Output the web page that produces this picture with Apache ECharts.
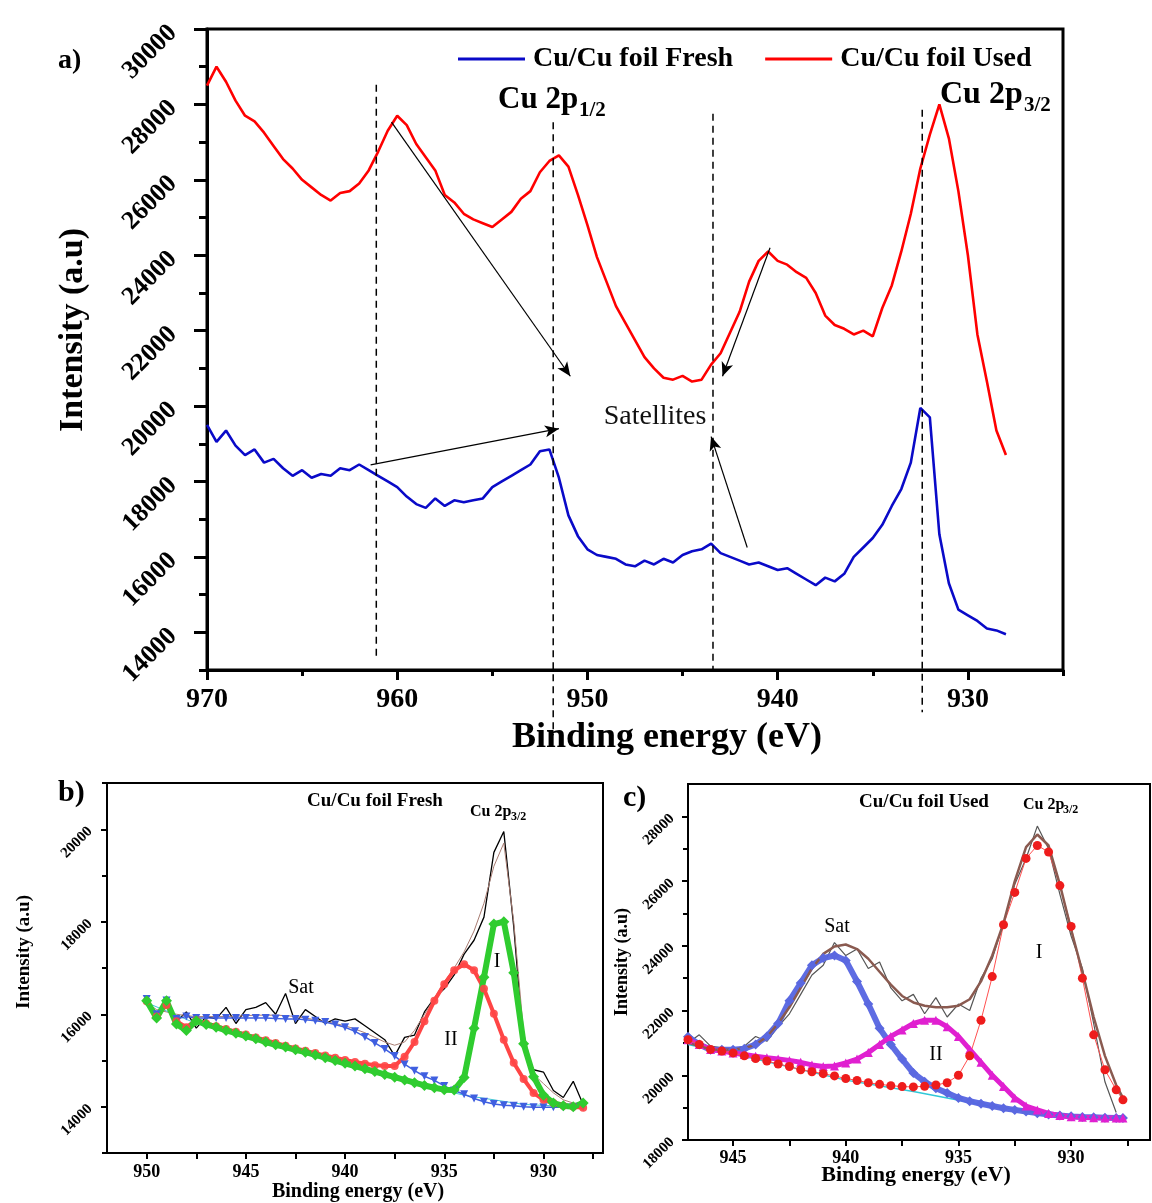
<!DOCTYPE html>
<html>
<head>
<meta charset="utf-8">
<script src="https://cdn.jsdelivr.net/npm/echarts@6/dist/echarts.min.js"></script>
<style>
  html, body { margin: 0; padding: 0; background: #fff; }
  #chart { width: 1152px; height: 1203px; }
</style>
</head>
<body>
<div id="chart"></div>
<script>
const SERIF = '"Liberation Serif", "Times New Roman", serif';

// ---- panel a: survey of Cu 2p ----
const energyA = [970, 969.5, 969, 968.5, 968, 967.5, 967, 966.5, 966, 965.5,
  965, 964.5, 964, 963.5, 963, 962.5, 962, 961.5, 961, 960.5,
  960, 959.5, 959, 958.5, 958, 957.5, 957, 956.5, 956, 955.5,
  955, 954.5, 954, 953.5, 953, 952.5, 952, 951.5, 951, 950.5,
  950, 949.5, 949, 948.5, 948, 947.5, 947, 946.5, 946, 945.5,
  945, 944.5, 944, 943.5, 943, 942.5, 942, 941.5, 941, 940.5,
  940, 939.5, 939, 938.5, 938, 937.5, 937, 936.5, 936, 935.5,
  935, 934.5, 934, 933.5, 933, 932.5, 932, 931.5, 931, 930.5,
  930, 929.5, 929, 928.5, 928];
const usedA = [28500, 29000, 28600, 28100, 27700, 27550, 27250, 26900, 26550, 26300,
  26000, 25800, 25600, 25450, 25650, 25700, 25900, 26250, 26750, 27300,
  27700, 27450, 26950, 26600, 26250, 25600, 25400, 25100, 24950, 24850,
  24750, 24950, 25150, 25500, 25700, 26200, 26500, 26650, 26350, 25600,
  24800, 23950, 23300, 22650, 22200, 21750, 21300, 21000, 20750, 20700,
  20800, 20650, 20700, 21100, 21400, 21950, 22500, 23300, 23850, 24100,
  23850, 23750, 23550, 23400, 23000, 22400, 22150, 22050, 21900, 22000,
  21850, 22600, 23200, 24100, 25100, 26300, 27200, 28000, 27100, 25700,
  24000, 21900, 20650, 19350, 18700];
const freshA = [19500, 19050, 19350, 18950, 18700, 18850, 18500, 18600, 18350, 18150,
  18300, 18100, 18200, 18150, 18350, 18300, 18450, 18300, 18150, 18000,
  17850, 17600, 17400, 17300, 17550, 17350, 17500, 17450, 17500, 17550,
  17850, 18000, 18150, 18300, 18450, 18800, 18850, 18100, 17100, 16550,
  16200, 16050, 16000, 15950, 15800, 15750, 15900, 15800, 15950, 15850,
  16050, 16150, 16200, 16350, 16100, 16000, 15900, 15800, 15850, 15750,
  15650, 15700, 15550, 15400, 15250, 15450, 15350, 15550, 16000, 16250,
  16500, 16850, 17350, 17800, 18500, 19950, 19700, 16600, 15300, 14600,
  14450, 14300, 14100, 14050, 13950];
const xLabelsA = [930, 940, 950, 960, 970];
const xMinorA = [925, 935, 945, 955, 965];
const yLabelsA = [14000, 16000, 18000, 20000, 22000, 24000, 26000, 28000, 30000];
const yMinorA = [13000, 15000, 17000, 19000, 21000, 23000, 25000, 27000, 29000];
// dashed guide lines: energy, top, bottom
const guideE = [961.1, 951.8, 943.4, 932.4];
const guideTop = [28520, 27530, 27750, 27860];
const guideBottom = [13270, 11270, 13000, 11880];
// arrows: [fromE, fromI, toE, toI]
const arrowsA = [
  [960.3, 27530, 950.9, 20790],
  [961.4, 18440, 951.5, 19400],
  [940.4, 24200, 942.9, 20790],
  [941.6, 16250, 943.5, 19190]
];

// ---- panel b: fresh fit ----
const energyB = [950, 949.5, 949, 948.5, 948, 947.5, 947, 946.5, 946, 945.5,
  945, 944.5, 944, 943.5, 943, 942.5, 942, 941.5, 941, 940.5,
  940, 939.5, 939, 938.5, 938, 937.5, 937, 936.5, 936, 935.5,
  935, 934.5, 934, 933.5, 933, 932.5, 932, 931.5, 931, 930.5,
  930, 929.5, 929, 928.5, 928];
const rawB = [16300, 16000, 16250, 15850, 16050, 15700, 15950, 15900, 16150, 15800,
  16100, 16150, 16250, 16000, 16450, 15800, 16100, 15950, 15800, 15900,
  15850, 15900, 15750, 15600, 15450, 15100, 15500, 15550, 16050, 16350,
  16550, 16850, 17300, 17600, 18100, 19500, 19950, 17900, 15300, 14800,
  14750, 14350, 14200, 14550, 14050];
const fitB = [16250, 16100, 16050, 16000, 15970, 15950, 15950, 15950, 15950, 15960,
  15970, 15980, 15980, 15980, 15970, 15950, 15920, 15880, 15840, 15800,
  15750, 15680, 15600, 15500, 15400, 15330, 15400, 15650, 16000, 16350,
  16700, 17000, 17350, 17800, 18400, 19200, 19700, 18000, 15600, 14700,
  14500, 14300, 14150, 14080, 14050];
const peakIB = [16290, 15920, 16290, 15790, 15650, 15860, 15780, 15720, 15650, 15590,
  15530, 15470, 15400, 15340, 15290, 15230, 15180, 15120, 15060, 15000,
  14940, 14880, 14820, 14760, 14700, 14640, 14580, 14520, 14460, 14410,
  14370, 14360, 14630, 15700, 16800, 17950, 18000, 16900, 15360, 14650,
  14250, 14080, 14020, 14000, 14080];
const peakIIB = [16280, 15950, 16200, 15850, 15720, 15870, 15800, 15740, 15680, 15620,
  15560, 15500, 15440, 15380, 15320, 15260, 15210, 15160, 15110, 15060,
  15010, 14970, 14930, 14900, 14880, 14880, 15080, 15400, 15850, 16290,
  16650, 16950, 17080, 16950, 16550, 16010, 15450, 14950, 14600, 14300,
  14150, 14080, 14020, 14000, 13980];
const satB = [16330, 16000, 16300, 15900, 15950, 15920, 15920, 15920, 15920, 15920,
  15920, 15920, 15920, 15910, 15900, 15900, 15880, 15860, 15830, 15780,
  15720, 15630, 15510, 15380, 15250, 15100, 14920, 14780, 14660, 14570,
  14450, 14350, 14270, 14180, 14110, 14060, 14030, 14020, 14000, 13990,
  13990, 13990, 13990, 13990, 13990];
const bgEnergyB = [950, 947.5, 942, 937, 934, 931, 928];
const bgB = [16250, 15800, 15150, 14550, 14250, 14050, 13990];
const xLabelsB = [930, 935, 940, 945, 950];
const xMinorB = [927.5, 932.5, 937.5, 942.5, 947.5];
const yLabelsB = [14000, 16000, 18000, 20000];
const yMinorB = [13000, 15000, 17000, 19000, 21000];

// ---- panel c: used fit ----
const energyC = [947, 946.5, 946, 945.5, 945, 944.5, 944, 943.5, 943, 942.5,
  942, 941.5, 941, 940.5, 940, 939.5, 939, 938.5, 938, 937.5,
  937, 936.5, 936, 935.5, 935, 934.5, 934, 933.5, 933, 932.5,
  932, 931.5, 931, 930.5, 930, 929.5, 929, 928.5, 928, 927.7];
const rawC = [21000, 21250, 20900, 20850, 20800, 20900, 21200, 21050, 21500, 21900,
  22500, 23100, 23400, 24100, 23700, 23900, 23300, 23500, 22700, 22300,
  22500, 21900, 22400, 21800, 22200, 22000, 23000, 23600, 24700, 25900,
  26700, 27700, 27000, 25600, 24300, 23300, 21600, 19800, 18850, null];
const fitC = [21000, 20900, 20800, 20790, 20800, 20830, 20950, 21190, 21600, 22100,
  22700, 23300, 23750, 23980, 24040, 23900, 23600, 23200, 22800, 22450,
  22250, 22150, 22100, 22100, 22150, 22350, 22900, 23700, 24700, 26000,
  27050, 27440, 27100, 25900, 24500, 23200, 21800, 20600, 19700, 19300];
const peakIC = [21100, 20950, 20800, 20750, 20690, 20600, 20520, 20440, 20350, 20270,
  20170, 20110, 20050, 19980, 19900, 19840, 19770, 19720, 19680, 19650,
  19640, 19660, 19700, 19770, 20000, 20600, 21700, 23050, 24650, 25650,
  26700, 27100, 26900, 25860, 24600, 23000, 21250, 20170, 19550, 19240];
const peakIIC = [21100, 20950, 20800, 20750, 20690, 20640, 20590, 20540, 20500, 20460,
  20400, 20320, 20270, 20290, 20380, 20500, 20700, 20950, 21200, 21400,
  21600, 21700, 21700, 21500, 21200, 20800, 20400, 20000, 19650, 19300,
  19050, 18930, 18820, 18760, 18720, 18700, 18690, 18680, 18680, 18680];
const satC = [21190, 20950, 20790, 20790, 20790, 20820, 20950, 21200, 21600, 22300,
  22850, 23400, 23620, 23700, 23550, 22900, 22200, 21450, 20950, 20500,
  20070, 19800, 19600, 19450, 19300, 19200, 19120, 19050, 18980, 18930,
  18880, 18830, 18790, 18760, 18730, 18710, 18700, 18690, 18680, 18680];
const bgEnergyC = [947, 944, 940, 937, 934, 931, 927.7];
const bgC = [20950, 20500, 19850, 19500, 19100, 18800, 18680];
const xLabelsC = [930, 935, 940, 945];
const xMinorC = [927.5, 932.5, 937.5, 942.5];
const yLabelsC = [18000, 20000, 22000, 24000, 26000, 28000];
const yMinorC = [19000, 21000, 23000, 25000, 27000];

function pairs(xs, ys) {
  return xs.map((x, i) => [x, ys[i]]);
}

function xAxes(gridIndex, min, max, major, minor, o) {
  const base = { type: 'value', gridIndex, min, max, inverse: true, position: 'bottom', splitLine: { show: false } };
  return [
    Object.assign({}, base, {
      axisLine: { onZero: false, lineStyle: { color: '#000', width: o.line } },
      axisTick: { customValues: major, length: o.tick, lineStyle: { color: '#000', width: o.line } },
      axisLabel: { customValues: major, margin: o.margin, color: '#000', fontFamily: SERIF, fontWeight: 'bold', fontSize: o.font,
        formatter: v => String(v) }
    }),
    Object.assign({}, base, {
      axisLine: { show: false },
      axisTick: { customValues: minor, length: o.minor, lineStyle: { color: '#000', width: o.line } },
      axisLabel: { show: false }
    })
  ];
}

function yAxes(gridIndex, min, max, major, minor, o) {
  const base = { type: 'value', gridIndex, min, max, position: 'left', splitLine: { show: false } };
  return [
    Object.assign({}, base, {
      axisLine: { onZero: false, lineStyle: { color: '#000', width: o.line } },
      axisTick: { customValues: major, length: o.tick, lineStyle: { color: '#000', width: o.line } },
      axisLabel: { customValues: major, margin: o.margin, rotate: 45, color: '#000', fontFamily: SERIF, fontWeight: 'bold', fontSize: o.font,
        formatter: v => String(v) }
    }),
    Object.assign({}, base, {
      axisLine: { show: false },
      axisTick: { customValues: minor, length: o.minor, lineStyle: { color: '#000', width: o.line } },
      axisLabel: { show: false }
    })
  ];
}

function txt(x, y, text, size, opts) {
  opts = opts || {};
  const align = opts.align || 'center';
  return {
    type: 'text', x, y, rotation: opts.rotation || 0, silent: true, z: 100,
    style: {
      text, fontSize: size, fontFamily: SERIF, fontWeight: opts.weight || 'bold',
      fill: opts.color || '#000', align, verticalAlign: 'middle',
      textAlign: align, textVerticalAlign: 'middle'
    }
  };
}

function lineSeries(name, xi, data, color, width, extra) {
  return Object.assign({
    name, type: 'line', xAxisIndex: xi, yAxisIndex: xi, data,
    showSymbol: false, symbol: 'none', silent: true,
    lineStyle: { color, width }, itemStyle: { color }
  }, extra || {});
}

function markerSeries(name, xi, data, color, symbol, size, lineColor, lineWidth, extra) {
  return Object.assign({
    name, type: 'line', xAxisIndex: xi, yAxisIndex: xi, data,
    showSymbol: true, symbol, symbolSize: size, silent: true,
    itemStyle: { color }, lineStyle: { color: lineColor, width: lineWidth }
  }, extra || {});
}

const guideSeries = guideE.map((e, i) => ({
  name: 'guide' + i, type: 'line', xAxisIndex: 0, yAxisIndex: 0, clip: false,
  data: [[e, guideTop[i]], [e, guideBottom[i]]], symbol: 'none', silent: true, z: 3,
  lineStyle: { color: '#000', width: 1.5, type: [7, 5] }
}));

const arrowSeries = {
  name: 'arrows', type: 'line', xAxisIndex: 0, yAxisIndex: 0, data: [], silent: true, z: 4,
  markLine: {
    silent: true, symbol: ['none', 'arrow'], symbolSize: [9, 14], animation: false,
    label: { show: false },
    lineStyle: { color: '#000', width: 1.2, type: 'solid' },
    data: arrowsA.map(a => [{ coord: [a[0], a[1]] }, { coord: [a[2], a[3]] }])
  }
};

const gridBase = { show: true, borderColor: '#000', backgroundColor: 'transparent', outerBoundsMode: 'none', containLabel: false };

const option = {
  animation: false,
  backgroundColor: '#fff',
  textStyle: { fontFamily: SERIF },
  grid: [
    Object.assign({}, gridBase, { left: 207, top: 29, width: 856, height: 641, borderWidth: 3 }),
    Object.assign({}, gridBase, { left: 107, top: 783, width: 496, height: 370, borderWidth: 2 }),
    Object.assign({}, gridBase, { left: 688, top: 784, width: 462, height: 356, borderWidth: 2 })
  ],
  xAxis: [].concat(
    xAxes(0, 925, 970, xLabelsA, xMinorA, { line: 3, tick: 10, minor: 6, margin: 16, font: 28 }),
    xAxes(1, 927, 952, xLabelsB, xMinorB, { line: 2, tick: 6, minor: 6, margin: 10, font: 18 }),
    xAxes(2, 926.5, 947, xLabelsC, xMinorC, { line: 2, tick: 6, minor: 6, margin: 9, font: 18 })
  ),
  yAxis: [].concat(
    yAxes(0, 13000, 30000, yLabelsA, yMinorA, { line: 3, tick: 13, minor: 8, margin: 34, font: 26 }),
    yAxes(1, 13000, 21000, yLabelsB, yMinorB, { line: 2, tick: 6, minor: 5, margin: 17, font: 15 }),
    yAxes(2, 18000, 29000, yLabelsC, yMinorC, { line: 2, tick: 6, minor: 5, margin: 16, font: 15 })
  ),
  legend: {
    data: ['Cu/Cu foil Fresh', 'Cu/Cu foil Used'],
    left: 458, top: 45, padding: 0, itemGap: 32, itemWidth: 67, itemHeight: 3, icon: 'rect',
    selectedMode: false,
    textStyle: { fontFamily: SERIF, fontWeight: 'bold', fontSize: 28, color: '#000', padding: [0, 0, 0, 3] }
  },
  series: [
    lineSeries('Cu/Cu foil Fresh', 0, pairs(energyA, freshA), '#0a0ac8', 2.6),
    lineSeries('Cu/Cu foil Used', 0, pairs(energyA, usedA), '#ff0000', 2.6)
  ].concat(guideSeries, [arrowSeries,
    // panel b
    lineSeries('raw b', 2, pairs(energyB, rawB), '#000', 1.3),
    lineSeries('fit b', 2, pairs(energyB, fitB), '#a87c72', 1),
    lineSeries('bg b', 2, pairs(bgEnergyB, bgB), '#40c4d4', 1),
    markerSeries('sat b', 2, pairs(energyB, satB), '#3f5fe0', 'triangle', 8, '#3f5fe0', 1.5, { symbolRotate: 180 }),
    markerSeries('II b', 2, pairs(energyB, peakIIB), 'rgba(255,70,70,0.9)', 'circle', 8, '#ff4545', 4),
    markerSeries('I b', 2, pairs(energyB, peakIB), '#2fcc2f', 'diamond', 11, '#2fcc2f', 6),
    // panel c
    lineSeries('raw c', 4, pairs(energyC, rawC), '#555', 1.2),
    lineSeries('bg c', 4, pairs(bgEnergyC, bgC), '#30c8d8', 1.5),
    markerSeries('sat c', 4, pairs(energyC, satC), '#5a68e0', 'diamond', 10, 'rgba(85,100,225,0.95)', 6),
    markerSeries('II c', 4, pairs(energyC, peakIIC), '#e020d0', 'triangle', 9, '#e020d0', 5),
    markerSeries('I c', 4, pairs(energyC, peakIC), '#ee1c1c', 'circle', 9, '#ff5050', 1),
    lineSeries('fit c', 4, pairs(energyC, fitC), '#8a5a50', 2.5)
  ]),
  graphic: [
    // panel a
    txt(58, 61, 'a)', 28, { align: 'left' }),
    txt(667, 738, 'Binding energy (eV)', 36),
    txt(73, 330, 'Intensity (a.u)', 34, { rotation: Math.PI / 2 }),
    txt(498, 100, 'Cu 2p', 31, { align: 'left' }),
    txt(579, 111, '1/2', 21, { align: 'left' }),
    txt(940, 95, 'Cu 2p', 32, { align: 'left' }),
    txt(1024, 106, '3/2', 21, { align: 'left' }),
    txt(655, 417, 'Satellites', 28, { weight: 'normal', color: '#111' }),
    // panel b
    txt(58, 793, 'b)', 30, { align: 'left' }),
    txt(375, 801, 'Cu/Cu foil Fresh', 19),
    txt(470, 812, 'Cu 2p', 16, { align: 'left' }),
    txt(511, 817, '3/2', 12, { align: 'left' }),
    txt(301, 988, 'Sat', 20, { weight: 'normal' }),
    txt(451, 1040, 'II', 20, { weight: 'normal' }),
    txt(497, 962, 'I', 20, { weight: 'normal' }),
    txt(358, 1192, 'Binding energy (eV)', 20),
    txt(24, 952, 'Intensity (a.u)', 19, { rotation: Math.PI / 2 }),
    // panel c
    txt(623, 798, 'c)', 30, { align: 'left' }),
    txt(924, 802, 'Cu/Cu foil Used', 19),
    txt(1023, 805, 'Cu 2p', 16, { align: 'left' }),
    txt(1063, 810, '3/2', 12, { align: 'left' }),
    txt(837, 927, 'Sat', 20, { weight: 'normal' }),
    txt(936, 1055, 'II', 20, { weight: 'normal' }),
    txt(1039, 953, 'I', 20, { weight: 'normal' }),
    txt(916, 1175, 'Binding energy (eV)', 22),
    txt(622, 962, 'Intensity (a.u)', 18, { rotation: Math.PI / 2 })
  ]
};

const chart = echarts.init(document.getElementById('chart'), null, { renderer: 'canvas' });
chart.setOption(option);
window.addEventListener('resize', () => chart.resize());
</script>
</body>
</html>
